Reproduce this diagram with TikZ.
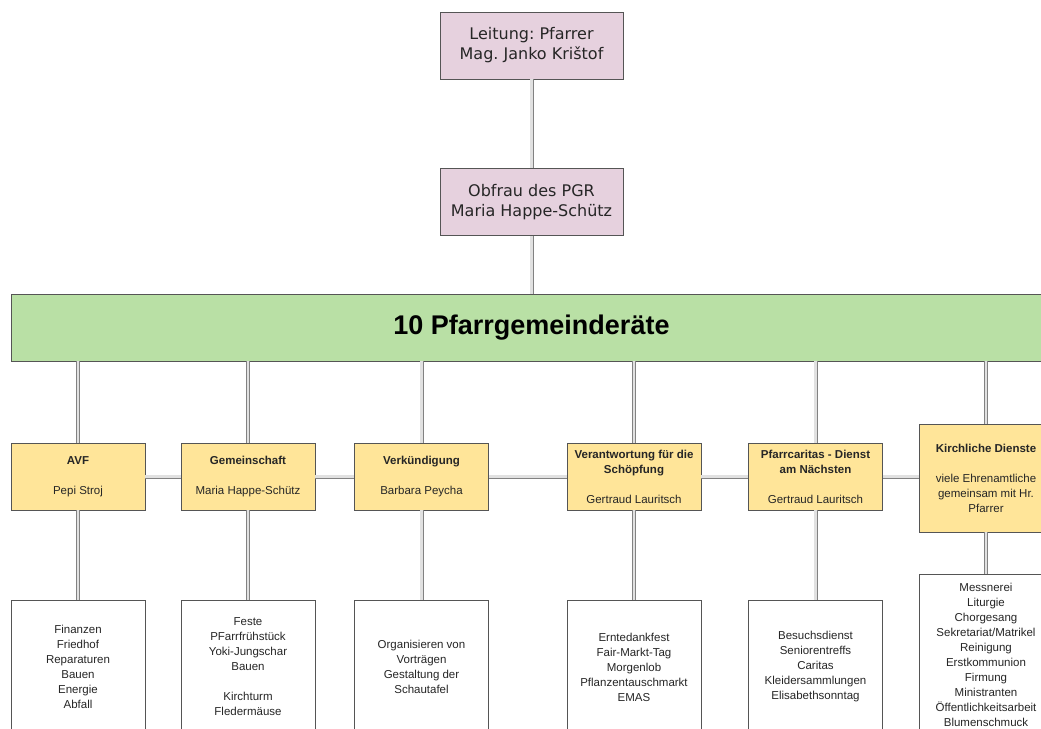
\documentclass[tikz,border=0pt]{standalone}
\usepackage{fontspec}
\setmainfont{Liberation Sans}
\newfontfamily\verd{DejaVu Sans}
\definecolor{pinkfill}{RGB}{230,209,222}
\definecolor{greenfill}{RGB}{185,224,165}
\definecolor{yellowfill}{RGB}{255,229,153}
\definecolor{boxline}{RGB}{85,85,85}
\definecolor{connout}{RGB}{130,130,130}
\definecolor{connin}{RGB}{225,225,225}
\begin{document}
\frenchspacing
\begin{tikzpicture}[x=1pt,y=-1pt,
  toptbox/.style={draw=boxline,fill=pinkfill,line width=0.9pt,minimum width=183pt,minimum height=67pt,inner sep=0pt,align=center,font=\verd\fontsize{16}{20}\selectfont,text=black!85},
  barbox/.style={draw=boxline,fill=greenfill,line width=0.9pt,minimum width=1041pt,minimum height=67pt,inner sep=0pt,font=\fontsize{27}{32}\selectfont\bfseries},
  ybox/.style={draw=boxline,fill=yellowfill,line width=0.9pt,minimum width=134pt,minimum height=67pt,inner sep=0pt,align=center,font=\fontsize{11.5}{15}\selectfont,text=black!85},
  wbox/.style={draw=boxline,fill=white,line width=0.9pt,minimum width=134pt,minimum height=134pt,inner sep=0pt,align=center,font=\fontsize{11.5}{15}\selectfont,text=black!85},
  conn/.style={draw=connout,line width=0.9pt,double=connin,double distance=2.2pt}
]
\clip (0,0) rectangle (1041,728);
\fill[white] (0,0) rectangle (1041,728);

% connectors first (drawn behind boxes)
\coordinate (c1) at (531.5,79);

% top nodes
\node[toptbox] (lead) at (531.5,45.5) {Leitung: Pfarrer\\Mag. Janko Kri\v{s}tof};
\node[toptbox] (obf) at (531.5,202) {Obfrau des PGR\\Maria Happe-Sch\"utz};
\node[barbox] (bar) at (531.5,327.5) {10 Pfarrgemeinder\"ate};

% yellow boxes
\node[ybox] (avf) at (78,476.5) {\textbf{AVF}\\[15pt]Pepi Stroj};
\node[ybox] (gem) at (248,476.5) {\textbf{Gemeinschaft}\\[15pt]Maria Happe-Sch\"utz};
\node[ybox] (verk) at (421.5,476.5) {\textbf{Verk\"undigung}\\[15pt]Barbara Peycha};
\node[ybox] (vers) at (634,476.5) {\textbf{Verantwortung f\"ur die}\\\textbf{Sch\"opfung}\\[15pt]Gertraud Lauritsch};
\node[ybox] (pfc) at (815.5,476.5) {\textbf{Pfarrcaritas - Dienst}\\\textbf{am N\"achsten}\\[15pt]Gertraud Lauritsch};
\node[ybox,minimum height=108pt] (kird) at (986,478) {\textbf{Kirchliche Dienste}\\[15pt]viele Ehrenamtliche\\gemeinsam mit Hr.\\Pfarrer};

% white boxes
\node[wbox] (wavf) at (78,667) {Finanzen\\Friedhof\\Reparaturen\\Bauen\\Energie\\Abfall};
\node[wbox] (wgem) at (248,667) {Feste\\PFarrfr\"uhst\"uck\\Yoki-Jungschar\\Bauen\\[15pt]Kirchturm\\Flederm\"ause};
\node[wbox] (wverk) at (421.5,667) {Organisieren von\\Vortr\"agen\\Gestaltung der\\Schautafel};
\node[wbox] (wvers) at (634,667) {Erntedankfest\\Fair-Markt-Tag\\Morgenlob\\Pflanzentauschmarkt\\EMAS};
\node[wbox] (wpfc) at (815.5,667) {Besuchsdienst\\Seniorentreffs\\Caritas\\Kleidersammlungen\\Elisabethsonntag};
\node[wbox,minimum height=162pt] (wkird) at (986,655) {Messnerei\\Liturgie\\Chorgesang\\Sekretariat/Matrikel\\Reinigung\\Erstkommunion\\Firmung\\Ministranten\\\"Offentlichkeitsarbeit\\Blumenschmuck};

% connectors
\draw[conn] (lead.south) -- (obf.north);
\draw[conn] (obf.south) -- (bar.north -| obf.south);
\foreach \n in {avf,gem,verk,vers,pfc,kird}{
  \draw[conn] (bar.south -| \n.north) -- (\n.north);
  \draw[conn] (\n.south) -- (w\n.north);
}
\draw[conn] (avf.east) -- (gem.west);
\draw[conn] (gem.east) -- (verk.west);
\draw[conn] (verk.east) -- (vers.west);
\draw[conn] (vers.east) -- (pfc.west);
\draw[conn] (pfc.east) -- (pfc.east -| kird.west);
\end{tikzpicture}
\end{document}
